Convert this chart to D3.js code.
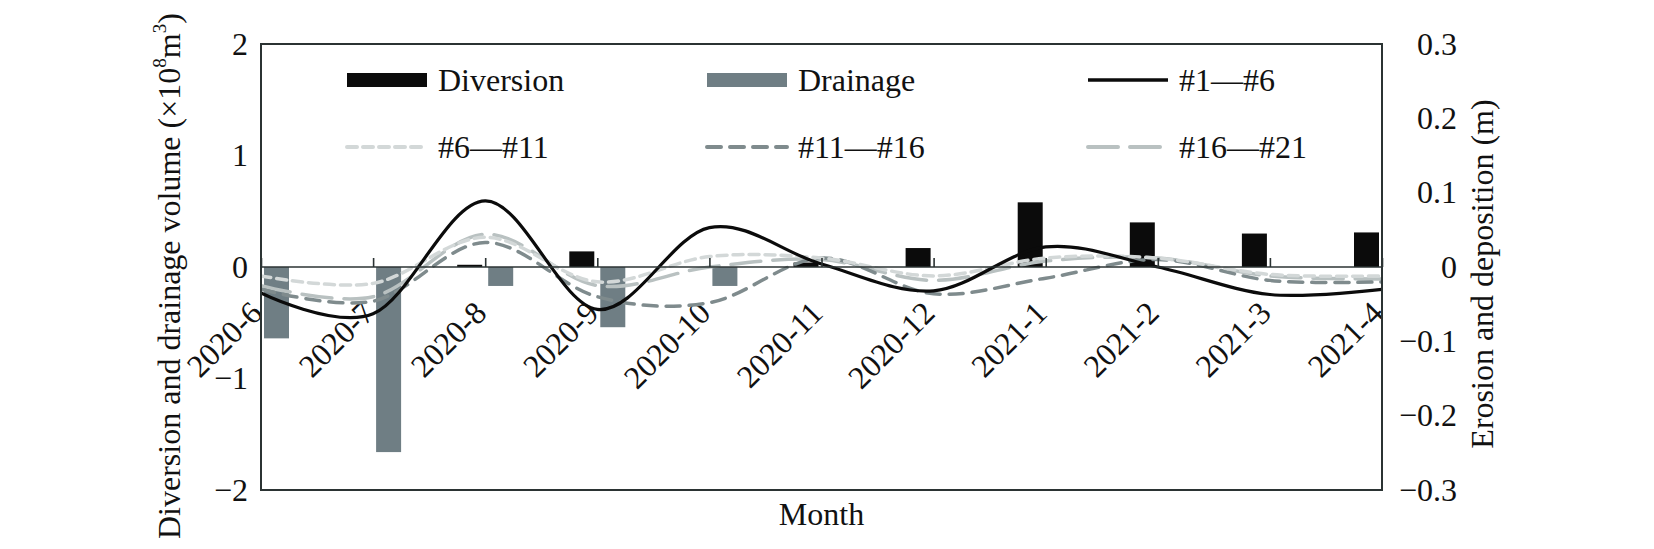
<!DOCTYPE html>
<html>
<head>
<meta charset="utf-8">
<script src="https://cdn.jsdelivr.net/npm/d3@7"></script>
<style>
  html, body { margin: 0; padding: 0; background: #fff; }
  svg { display: block; }
  svg text { font-family: "Liberation Serif", "DejaVu Serif", serif; }
</style>
</head>
<body>
<svg id="chart" width="1654" height="549"></svg>
<script>
// months on the category axis
const months = ['2020-6', '2020-7', '2020-8', '2020-9', '2020-10', '2020-11',
                '2020-12', '2021-1', '2021-2', '2021-3', '2021-4'];

// bars, left axis (x10^8 m3)
const diversion = [0, 0, 0.02, 0.14, 0, 0.04, 0.17, 0.58, 0.40, 0.30, 0.31];
const drainage  = [-0.64, -1.66, -0.17, -0.54, -0.17, 0, 0, 0, 0, 0, 0];

// erosion / deposition per reach, right axis (m)
const reach1_6   = [-0.035, -0.063, 0.089, -0.057, 0.053, 0.004, -0.032, 0.027, 0.000, -0.037, -0.030];
const reach6_11  = [-0.012, -0.022, 0.040, -0.020, 0.014, 0.012, -0.012, 0.012, 0.012, -0.010, -0.012];
const reach11_16 = [-0.030, -0.046, 0.033, -0.040, -0.048, 0.012, -0.036, -0.015, 0.010, -0.018, -0.020];
const reach16_21 = [-0.025, -0.040, 0.044, -0.025, 0.000, 0.010, -0.018, 0.008, 0.012, -0.012, -0.016];

const leftTicks  = [-2, -1, 0, 1, 2];
const rightTicks = [-0.3, -0.2, -0.1, 0, 0.1, 0.2, 0.3];

const X0 = 261, X1 = 1382, Y0 = 44, Y1 = 490;
const BAR_W = 25;
const FS = 32;
const FONT = '"Liberation Serif", "DejaVu Serif", serif';

const fmtMinus = d => (d < 0 ? '\u2212' + Math.abs(d) : String(d));

const svg = d3.select('#chart');

const x  = d3.scalePoint().domain(months).range([X0, X1]);
const yL = d3.scaleLinear().domain([-2, 2]).range([Y1, Y0]);
const yR = d3.scaleLinear().domain([-0.3, 0.3]).range([Y1, Y0]);
const zeroY = yL(0);

svg.append('defs').append('clipPath').attr('id', 'plot-clip')
  .append('rect').attr('x', X0).attr('y', Y0).attr('width', X1 - X0).attr('height', Y1 - Y0);

// left axis labels
const gL = svg.append('g')
  .attr('transform', `translate(${X0},0)`)
  .call(d3.axisLeft(yL).tickValues(leftTicks).tickSize(0).tickPadding(13).tickFormat(fmtMinus));
gL.attr('font-family', FONT).attr('font-size', FS);
gL.select('.domain').remove();
gL.selectAll('text').attr('fill', '#111');

// right axis labels (right aligned)
const gR = svg.append('g')
  .attr('transform', `translate(${X1},0)`)
  .call(d3.axisRight(yR).tickValues(rightTicks).tickSize(0)
    .tickFormat(d => fmtMinus(+d.toFixed(1))));
gR.attr('font-family', FONT).attr('font-size', FS);
gR.select('.domain').remove();
gR.selectAll('text').attr('fill', '#111').attr('text-anchor', 'end').attr('x', 75);

// category labels, rotated, drawn under the bars
const gX = svg.append('g').attr('transform', `translate(0,${zeroY})`);
gX.selectAll('text.mlab')
  .data(months)
  .join('text')
  .attr('class', 'mlab')
  .attr('font-family', FONT)
  .attr('font-size', FS)
  .attr('fill', '#111')
  .attr('text-anchor', 'end')
  .attr('transform', d => `translate(${x(d) + 3},48) rotate(-45)`)
  .text(d => d);

const plot = svg.append('g').attr('clip-path', 'url(#plot-clip)');

// bars
plot.selectAll('rect.div')
  .data(months.map((m, i) => ({ m, v: diversion[i] })).filter(d => d.v !== 0))
  .join('rect')
  .attr('class', 'div')
  .attr('x', d => x(d.m) - 3 - BAR_W)
  .attr('width', BAR_W)
  .attr('y', d => yL(d.v))
  .attr('height', d => zeroY - yL(d.v))
  .attr('fill', '#0b0b0b');

plot.selectAll('rect.drn')
  .data(months.map((m, i) => ({ m, v: drainage[i] })).filter(d => d.v !== 0))
  .join('rect')
  .attr('class', 'drn')
  .attr('x', d => x(d.m) + 3)
  .attr('width', BAR_W)
  .attr('y', zeroY)
  .attr('height', d => yL(d.v) - zeroY)
  .attr('fill', '#6f7e84');

// zero line and tick marks pointing up
svg.append('line')
  .attr('x1', X0).attr('x2', X1).attr('y1', zeroY).attr('y2', zeroY)
  .attr('stroke', '#2b3333').attr('stroke-width', 1.6);
const gT = svg.append('g')
  .attr('transform', `translate(0,${zeroY})`)
  .call(d3.axisTop(x).tickSize(9).tickFormat(''));
gT.select('.domain').remove();
gT.selectAll('line').attr('stroke', '#2b3333').attr('stroke-width', 1.6);

// smoothed lines
const series = [
  { name: '#16\u2014#21', vals: reach16_21, color: '#b9c1c1', dash: '30,12', w: 3.5 },
  { name: '#11\u2014#16', vals: reach11_16, color: '#7f8b8d', dash: '14,9',  w: 3.5 },
  { name: '#6\u2014#11',  vals: reach6_11,  color: '#d3d8d8', dash: '10,6',  w: 3.5 },
  { name: '#1\u2014#6',   vals: reach1_6,   color: '#0b0b0b', dash: null,    w: 3.2 }
];

const line = d3.line()
  .x((d, i) => x(months[i]))
  .y(d => yR(d))
  .curve(d3.curveCardinal.tension(0));

series.forEach(s => {
  plot.append('path')
    .attr('d', line(s.vals))
    .attr('fill', 'none')
    .attr('stroke', s.color)
    .attr('stroke-width', s.w)
    .attr('stroke-dasharray', s.dash)
    .attr('stroke-linecap', s.dash ? 'round' : 'butt');
});

// plot frame
svg.append('rect')
  .attr('x', X0).attr('y', Y0).attr('width', X1 - X0).attr('height', Y1 - Y0)
  .attr('fill', 'none').attr('stroke', '#2b3333').attr('stroke-width', 2);

// legend
const legend = [
  { label: 'Diversion',        type: 'rect', color: '#0b0b0b', x: 347,  y: 80 },
  { label: 'Drainage',         type: 'rect', color: '#6f7e84', x: 707,  y: 80 },
  { label: '#1\u2014#6',       type: 'line', s: series[3],     x: 1088, y: 80 },
  { label: '#6\u2014#11',      type: 'line', s: series[2],     x: 347,  y: 147 },
  { label: '#11\u2014#16',     type: 'line', s: series[1],     x: 707,  y: 147 },
  { label: '#16\u2014#21',     type: 'line', s: series[0],     x: 1088, y: 147 }
];

legend.forEach(l => {
  if (l.type === 'rect') {
    svg.append('rect').attr('x', l.x).attr('y', l.y - 7).attr('width', 80).attr('height', 14)
      .attr('fill', l.color);
  } else {
    svg.append('line').attr('x1', l.x).attr('x2', l.x + 80).attr('y1', l.y).attr('y2', l.y)
      .attr('stroke', l.s.color).attr('stroke-width', l.s.w + 0.5)
      .attr('stroke-dasharray', l.s.dash)
      .attr('stroke-linecap', l.s.dash ? 'round' : 'butt');
  }
  svg.append('text').attr('x', l.x + 91).attr('y', l.y).attr('dy', '0.35em')
    .attr('font-family', FONT).attr('font-size', FS).attr('fill', '#111').text(l.label);
});

// axis titles
const tL = svg.append('text')
  .attr('transform', `translate(169,276) rotate(-90)`)
  .attr('text-anchor', 'middle').attr('dy', '0.35em')
  .attr('font-family', FONT).attr('font-size', FS).attr('fill', '#111');
tL.append('tspan').text('Diversion and drainage volume (\u00d710');
tL.append('tspan').attr('font-size', FS * 0.6).attr('dy', '-0.75em').text('8');
tL.append('tspan').attr('dy', '0.45em').text('m');
tL.append('tspan').attr('font-size', FS * 0.6).attr('dy', '-0.75em').text('3');
tL.append('tspan').attr('dy', '0.45em').text(')');

svg.append('text')
  .attr('transform', `translate(1482,274) rotate(-90)`)
  .attr('text-anchor', 'middle').attr('dy', '0.35em')
  .attr('font-family', FONT).attr('font-size', FS).attr('fill', '#111')
  .text('Erosion and deposition (m)');

svg.append('text')
  .attr('x', (X0 + X1) / 2).attr('y', 514).attr('dy', '0.35em')
  .attr('text-anchor', 'middle')
  .attr('font-family', FONT).attr('font-size', FS).attr('fill', '#111')
  .text('Month');
</script>
</body>
</html>
